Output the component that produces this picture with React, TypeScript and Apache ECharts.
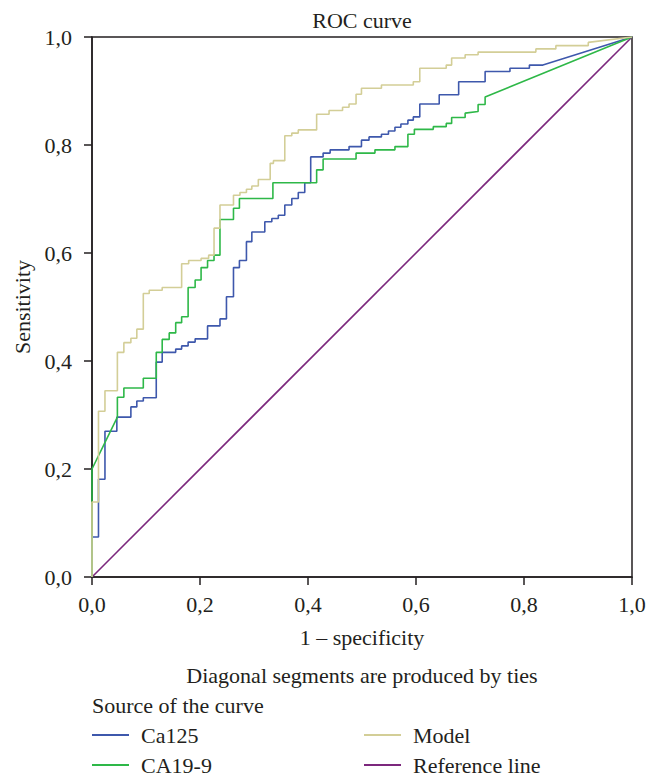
import React, { useEffect, useRef } from "react";
import * as echarts from "echarts";

const seriesNames = ["Ca125", "CA19-9", "Model", "Reference line"];
const seriesColors = ["#3E58AC", "#2EB848", "#D3CE97", "#7C287D"];
const axisTicks = [0, 0.2, 0.4, 0.6, 0.8, 1.0];

const ca125Points: number[][] = [
  [0, 0], [0, 0.074], [0.012, 0.074], [0.012, 0.181], [0.024, 0.181], [0.024, 0.27],
  [0.046, 0.27], [0.046, 0.296], [0.072, 0.296], [0.072, 0.315], [0.083, 0.315], [0.083, 0.326],
  [0.095, 0.326], [0.095, 0.332], [0.119, 0.332], [0.119, 0.398], [0.13, 0.398], [0.13, 0.416],
  [0.155, 0.416], [0.155, 0.422], [0.166, 0.422], [0.166, 0.428], [0.178, 0.428], [0.178, 0.435],
  [0.191, 0.435], [0.191, 0.441], [0.214, 0.441], [0.214, 0.465], [0.237, 0.465], [0.237, 0.478],
  [0.249, 0.478], [0.249, 0.519], [0.262, 0.519], [0.262, 0.573], [0.273, 0.573], [0.273, 0.586],
  [0.286, 0.586], [0.286, 0.621], [0.296, 0.621], [0.296, 0.639], [0.32, 0.639], [0.32, 0.658],
  [0.333, 0.658], [0.333, 0.664], [0.345, 0.664], [0.345, 0.67], [0.357, 0.67], [0.357, 0.689],
  [0.37, 0.689], [0.37, 0.701], [0.382, 0.701], [0.382, 0.712], [0.394, 0.712], [0.394, 0.73],
  [0.405, 0.73], [0.405, 0.778], [0.428, 0.778], [0.428, 0.785], [0.441, 0.785], [0.441, 0.791],
  [0.476, 0.791], [0.476, 0.797], [0.499, 0.797], [0.499, 0.809], [0.513, 0.809], [0.513, 0.815],
  [0.536, 0.815], [0.536, 0.82], [0.549, 0.82], [0.549, 0.826], [0.561, 0.826], [0.561, 0.833],
  [0.572, 0.833], [0.572, 0.839], [0.585, 0.839], [0.585, 0.846], [0.595, 0.846], [0.595, 0.852],
  [0.607, 0.852], [0.607, 0.876], [0.643, 0.876], [0.643, 0.893], [0.679, 0.893], [0.679, 0.917],
  [0.728, 0.917], [0.728, 0.936], [0.774, 0.936], [0.774, 0.942], [0.81, 0.942], [0.81, 0.948],
  [0.835, 0.948], [1, 1],
];

const ca199Points: number[][] = [
  [0, 0], [0, 0.2], [0.047, 0.296], [0.047, 0.333], [0.059, 0.333], [0.059, 0.35],
  [0.095, 0.35], [0.095, 0.368], [0.119, 0.368], [0.119, 0.416], [0.13, 0.416], [0.13, 0.44],
  [0.143, 0.44], [0.143, 0.452], [0.155, 0.452], [0.155, 0.471], [0.166, 0.471], [0.166, 0.482],
  [0.178, 0.482], [0.178, 0.536], [0.191, 0.536], [0.191, 0.55], [0.202, 0.55], [0.202, 0.573],
  [0.214, 0.573], [0.214, 0.586], [0.226, 0.586], [0.226, 0.596], [0.237, 0.596], [0.237, 0.662],
  [0.262, 0.662], [0.262, 0.683], [0.273, 0.683], [0.273, 0.701], [0.335, 0.701], [0.335, 0.73],
  [0.416, 0.73], [0.416, 0.754], [0.428, 0.754], [0.428, 0.774], [0.489, 0.774], [0.489, 0.785],
  [0.524, 0.785], [0.524, 0.791], [0.561, 0.791], [0.561, 0.797], [0.585, 0.797], [0.585, 0.82],
  [0.597, 0.82], [0.597, 0.829], [0.632, 0.829], [0.632, 0.834], [0.656, 0.834], [0.656, 0.84],
  [0.666, 0.84], [0.666, 0.851], [0.691, 0.851], [0.691, 0.859], [0.715, 0.862], [0.715, 0.875],
  [0.728, 0.875], [0.728, 0.889], [1, 1],
];

const modelPoints: number[][] = [
  [0, 0], [0, 0.139], [0.012, 0.139], [0.012, 0.307], [0.024, 0.307], [0.024, 0.345],
  [0.047, 0.345], [0.047, 0.416], [0.059, 0.416], [0.059, 0.434], [0.072, 0.434], [0.072, 0.442],
  [0.083, 0.442], [0.083, 0.459], [0.095, 0.459], [0.095, 0.525], [0.106, 0.525], [0.106, 0.531],
  [0.13, 0.531], [0.13, 0.536], [0.166, 0.536], [0.166, 0.58], [0.179, 0.58], [0.179, 0.586],
  [0.202, 0.586], [0.202, 0.59], [0.216, 0.59], [0.216, 0.596], [0.226, 0.596], [0.226, 0.646],
  [0.237, 0.646], [0.237, 0.689], [0.262, 0.689], [0.262, 0.707], [0.274, 0.707], [0.274, 0.712],
  [0.286, 0.712], [0.286, 0.718], [0.296, 0.718], [0.296, 0.724], [0.308, 0.724], [0.308, 0.736],
  [0.33, 0.736], [0.33, 0.766], [0.336, 0.766], [0.336, 0.771], [0.357, 0.771], [0.357, 0.817],
  [0.37, 0.817], [0.37, 0.822], [0.382, 0.822], [0.382, 0.828], [0.416, 0.828], [0.416, 0.857],
  [0.439, 0.857], [0.439, 0.864], [0.464, 0.864], [0.464, 0.87], [0.476, 0.87], [0.476, 0.876],
  [0.489, 0.876], [0.489, 0.894], [0.499, 0.894], [0.499, 0.905], [0.536, 0.905], [0.536, 0.911],
  [0.595, 0.911], [0.595, 0.917], [0.607, 0.917], [0.607, 0.942], [0.656, 0.942], [0.656, 0.948],
  [0.666, 0.948], [0.666, 0.961], [0.691, 0.961], [0.691, 0.967], [0.715, 0.967], [0.715, 0.972],
  [0.822, 0.972], [0.822, 0.978], [0.859, 0.978], [0.859, 0.984], [0.919, 0.984], [0.919, 0.99],
  [1, 1],
];

const referencePoints: number[][] = [
  [0, 0],
  [1, 1],
];

const chartTitle = "ROC curve";
const xAxisTitle = "1 \u2013 specificity";
const yAxisTitle = "Sensitivity";
const footnote = "Diagonal segments are produced by ties";
const legendTitle = "Source of the curve";

const FONT = "'Liberation Serif', 'Times New Roman', serif";
const FS = 22;
const INK = "#231f20";

const fmt = (v: number) => v.toFixed(1).replace(".", ",");

export default function App() {
  const ref = useRef<HTMLDivElement>(null);
  useEffect(() => {
    if (!ref.current) return;
    const chart = echarts.init(ref.current, undefined, { renderer: "svg" });
    const allPoints = [ca125Points, ca199Points, modelPoints, referencePoints];
    const axisCommon = {
      type: "value" as const,
      min: axisTicks[0],
      max: axisTicks[axisTicks.length - 1],
      interval: 0.2,
      nameLocation: "middle" as const,
      nameTextStyle: { fontFamily: FONT, fontSize: FS, color: INK },
      axisLine: { show: true, lineStyle: { color: INK, width: 1.5 } },
      axisTick: { show: true, inside: false, length: 8, lineStyle: { color: INK, width: 1.5 } },
      axisLabel: {
        fontFamily: FONT,
        fontSize: FS,
        color: INK,
        formatter: fmt,
        showMinLabel: true,
        showMaxLabel: true,
      },
      splitLine: { show: false },
    };
    const legendCommon = {
      orient: "vertical" as const,
      top: 724,
      height: 80,
      padding: 0,
      itemWidth: 37,
      itemHeight: 2,
      itemGap: 8,
      icon: "rect",
      selectedMode: false,
      textStyle: { fontFamily: FONT, fontSize: FS, color: INK, lineHeight: 22, padding: [0, 0, 0, 7] },
    };
    chart.setOption({
      animation: false,
      backgroundColor: "#ffffff",
      grid: {
        left: 92,
        top: 37,
        width: 540,
        height: 540,
        show: true,
        borderColor: INK,
        borderWidth: 1.5,
        backgroundColor: "transparent",
      },
      xAxis: {
        ...axisCommon,
        name: xAxisTitle,
        nameGap: 49,
        axisLabel: { ...axisCommon.axisLabel, margin: 16 },
      },
      yAxis: {
        ...axisCommon,
        name: yAxisTitle,
        nameGap: 57,
        axisLabel: { ...axisCommon.axisLabel, margin: 20 },
      },
      legend: [
        { ...legendCommon, data: [seriesNames[0], seriesNames[1]], left: 92 },
        { ...legendCommon, data: [seriesNames[2], seriesNames[3]], left: 364 },
      ],
      graphic: [
        {
          type: "text",
          x: 362,
          y: 20,
          style: {
            text: chartTitle,
            fontFamily: FONT,
            fontSize: FS,
            fill: INK,
            textAlign: "center",
            textVerticalAlign: "middle",
          },
        },
        {
          type: "text",
          x: 362,
          y: 675,
          style: {
            text: footnote,
            fontFamily: FONT,
            fontSize: FS,
            fill: INK,
            textAlign: "center",
            textVerticalAlign: "middle",
          },
        },
        {
          type: "text",
          x: 92,
          y: 705,
          style: {
            text: legendTitle,
            fontFamily: FONT,
            fontSize: FS,
            fill: INK,
            textAlign: "left",
            textVerticalAlign: "middle",
          },
        },
      ],
      series: seriesNames.map((name, i) => ({
        name,
        type: "line",
        data: allPoints[i],
        showSymbol: false,
        symbol: "none",
        smooth: false,
        color: seriesColors[i],
        lineStyle: { color: seriesColors[i], width: 1.6 },
        z: i === 3 ? 1 : 2 + i,
        silent: true,
      })),
    });
    return () => chart.dispose();
  }, []);
  return (
    <div
      ref={ref}
      style={{ position: "absolute", left: 0, top: 0, width: 658, height: 779, background: "#fff" }}
    />
  );
}
